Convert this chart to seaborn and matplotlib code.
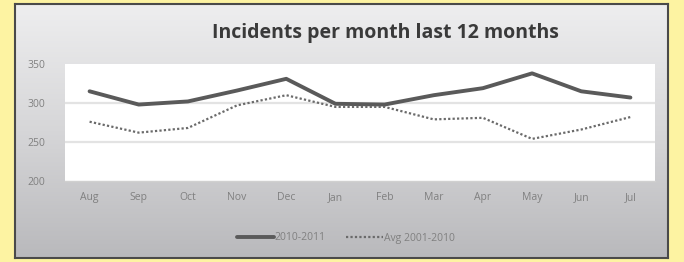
import numpy as np
import pandas as pd
import matplotlib.pyplot as plt
import seaborn as sns

months = ["Aug", "Sep", "Oct", "Nov", "Dec", "Jan", "Feb", "Mar", "Apr", "May", "Jun", "Jul"]
current = [315, 298, 302, 316, 331, 299, 298, 310, 319, 338, 315, 307]
average = [276, 262, 268, 297, 310, 295, 295, 279, 281, 254, 266, 282]
series_names = ["2010-2011", "Avg 2001-2010"]

df = pd.DataFrame({
    "month": months * 2,
    "incidents": current + average,
    "series": [series_names[0]] * len(months) + [series_names[1]] * len(months),
})

sns.set_theme(style="white")
plt.rcParams["font.family"] = ["Open Sans", "DejaVu Sans"]

W, H = 684, 262
fig = plt.figure(figsize=(W / 100, H / 100), dpi=100)
fig.patch.set_facecolor("#fdf3a2")

# grey gradient panel behind the chart
bg = fig.add_axes([15 / W, 4 / H, 653 / W, 254 / H])
grad = np.linspace(0, 1, 256).reshape(-1, 1)
bg.imshow(grad, aspect="auto", cmap=sns.blend_palette(["#eeeeef", "#d6d6d8", "#b9b9bc"], as_cmap=True),
          extent=[0, 1, 0, 1])
bg.set_xlim(0, 1)
bg.set_ylim(0, 1)
bg.set_xticks([])
bg.set_yticks([])
for s in bg.spines.values():
    s.set_color("#4a4a4a")
    s.set_linewidth(1.5)

ax = fig.add_axes([65 / W, (H - 181) / H, 590 / W, 117 / H])
ax.set_facecolor("white")
sns.lineplot(data=df, x="month", y="incidents", hue="series", style="series",
             palette=["#5a5a5a", "#6a6a6a"],
             dashes={series_names[0]: "", series_names[1]: (1, 1)},
             size="series", sizes={series_names[0]: 2.8, series_names[1]: 1.6},
             ax=ax, legend=False)
ax.set_xlim(-0.5, len(months) - 0.5)
ax.set_ylim(200, 350)
ax.set_yticks([200, 250, 300, 350])
for y in [250, 300]:
    ax.axhline(y, color="#e3e3e3", lw=1.6, zorder=0)
ax.set_xlabel("")
ax.set_ylabel("")
for s in ["top", "right", "left"]:
    ax.spines[s].set_visible(False)
ax.spines["bottom"].set_color("#d0d0d0")
ax.spines["bottom"].set_linewidth(1)
ax.set_xticks(np.arange(len(months)))
ax.set_xticklabels(months)
ax.set_xticks(np.arange(-0.5, len(months)), minor=True)
ax.tick_params(axis="x", which="major", length=0, pad=8, labelsize=7.5, labelcolor="#808080")
ax.tick_params(axis="x", which="minor", length=3, color="#c8c8c8", direction="out")
ax.tick_params(axis="y", length=0, pad=14, labelsize=7.5, labelcolor="#808080")

fig.text(385 / W, 1 - 33 / H, "Incidents per month last 12 months", ha="center", va="center",
         fontsize=14, fontweight="bold", color="#3a3a3a")

handles = [
    plt.Line2D([], [], color="#5a5a5a", lw=2.8),
    plt.Line2D([], [], color="#6a6a6a", lw=1.6, ls=(0, (1, 1))),
]
fig.legend(handles, series_names, loc="center", bbox_to_anchor=(346 / W, 1 - 238 / H), ncol=2,
           frameon=False, fontsize=7.5, labelcolor="#808080", handlelength=3.5,
           handletextpad=0.1, columnspacing=2.0)

fig.savefig("out.png", dpi=100, facecolor=fig.get_facecolor())
